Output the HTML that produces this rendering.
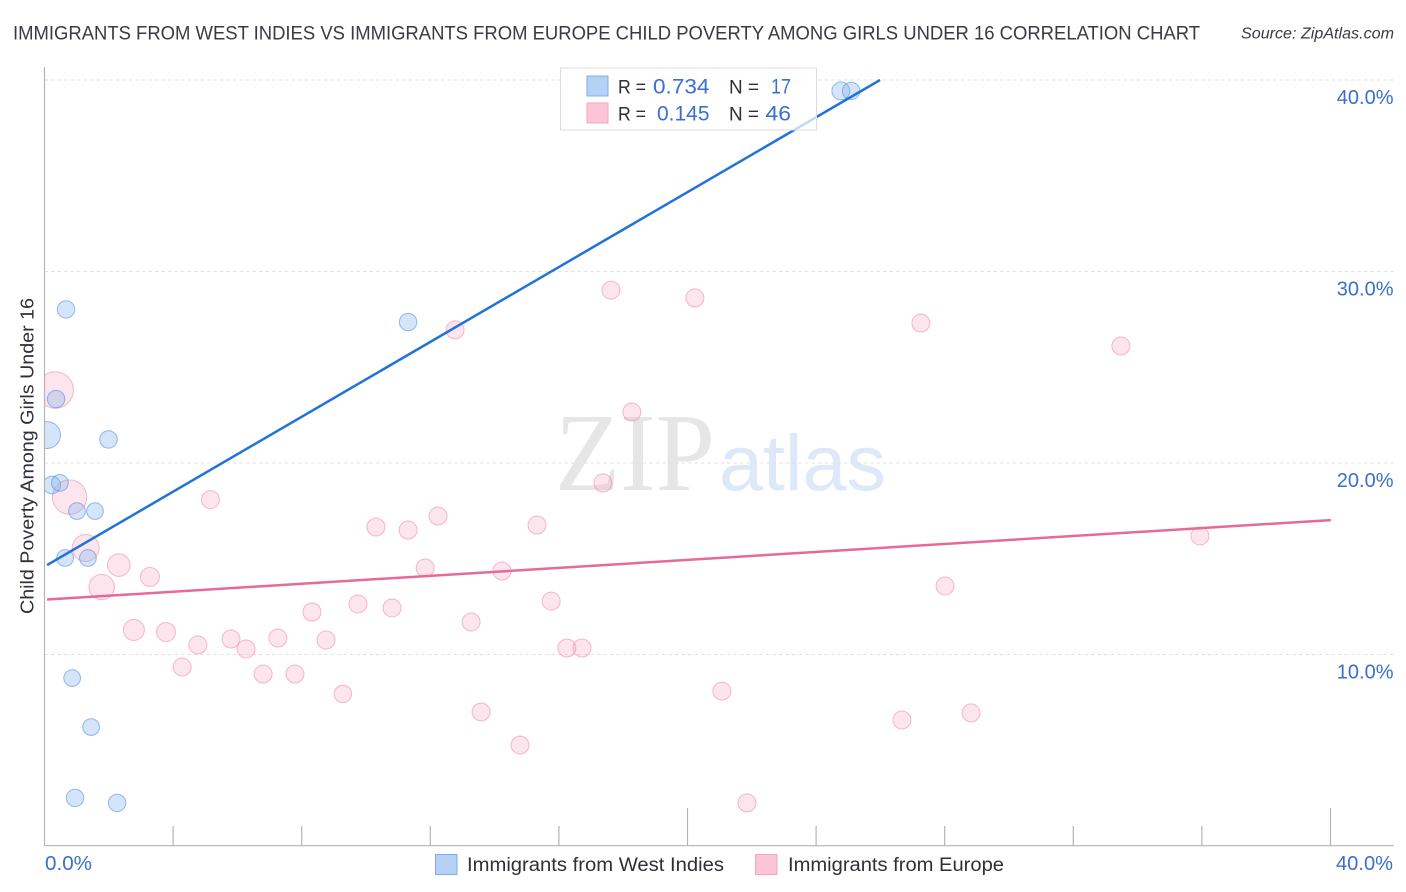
<!DOCTYPE html>
<html lang="en">
<head>
<meta charset="utf-8">
<title>Immigrants from West Indies vs Immigrants from Europe correlation chart</title>
<style>
html,body{margin:0;padding:0;background:#fff;width:1406px;height:892px;overflow:hidden}
svg{display:block;font-family:"Liberation Sans",sans-serif}
</style>
</head>
<body>
<svg id="chart" width="1406" height="892" viewBox="0 0 1406 892" xmlns="http://www.w3.org/2000/svg">
  <defs>
    <clipPath id="plotClip"><rect x="45" y="60" width="1349" height="786"/></clipPath>
  </defs>
  <rect x="0" y="0" width="1406" height="892" fill="#ffffff"/>
  <text x="13" y="39.5" font-size="19.5" fill="#3a3a42" textLength="1187" lengthAdjust="spacingAndGlyphs">IMMIGRANTS FROM WEST INDIES VS IMMIGRANTS FROM EUROPE CHILD POVERTY AMONG GIRLS UNDER 16 CORRELATION CHART</text>
  <text x="1241" y="38.5" font-size="15.5" font-style="italic" fill="#3a3a42" textLength="153" lengthAdjust="spacingAndGlyphs">Source: ZipAtlas.com</text>

  <g>
    <text x="555" y="490" font-size="111" fill="#e6e6e6" style="font-family:'Liberation Serif',serif" textLength="160" lengthAdjust="spacingAndGlyphs">ZIP</text>
    <text x="719" y="490" font-size="79" fill="#dde8f8" textLength="167" lengthAdjust="spacingAndGlyphs">atlas</text>
  </g>

  <g id="grid"></g>
  <g id="yLabels"></g>
  <g id="pinkPoints" clip-path="url(#plotClip)"></g>
  <g id="bluePoints" clip-path="url(#plotClip)"></g>
  <g id="trends"></g>
  <g id="axes"></g>

  <text transform="translate(33.5,456) rotate(-90)" text-anchor="middle" font-size="18.5" fill="#2f2f37" textLength="316" lengthAdjust="spacingAndGlyphs">Child Poverty Among Girls Under 16</text>
  <text x="45" y="870" font-size="20" fill="#3a6fd0" textLength="47" lengthAdjust="spacingAndGlyphs">0.0%</text>
  <text x="1336" y="870" font-size="20" fill="#3a6fd0" textLength="57" lengthAdjust="spacingAndGlyphs">40.0%</text>

  <g>
    <rect x="560.5" y="68" width="256" height="62" fill="#ffffff" fill-opacity="0.72" stroke="#dcdcdc" stroke-width="1"/>
    <rect x="587" y="76" width="21" height="20" fill="#b5d2f6" stroke="#7fabe6" stroke-width="1"/>
    <rect x="587" y="103" width="21" height="20" fill="#fcc5d7" stroke="#f3a5c0" stroke-width="1"/>
    <text x="618" y="93.5" font-size="19" fill="#2f2f37" textLength="28" lengthAdjust="spacingAndGlyphs">R =</text>
    <text x="653" y="93.5" font-size="21" fill="#3a6fd0" textLength="56.5" lengthAdjust="spacingAndGlyphs">0.734</text>
    <text x="729" y="93.5" font-size="19" fill="#2f2f37" textLength="30" lengthAdjust="spacingAndGlyphs">N =</text>
    <text x="771" y="93.5" font-size="21" fill="#3a6fd0" textLength="20" lengthAdjust="spacingAndGlyphs">17</text>
    <text x="618" y="120.5" font-size="19" fill="#2f2f37" textLength="28" lengthAdjust="spacingAndGlyphs">R =</text>
    <text x="657" y="120.5" font-size="21" fill="#3a6fd0" textLength="52.5" lengthAdjust="spacingAndGlyphs">0.145</text>
    <text x="729" y="120.5" font-size="19" fill="#2f2f37" textLength="30" lengthAdjust="spacingAndGlyphs">N =</text>
    <text x="765.5" y="120.5" font-size="21" fill="#3a6fd0" textLength="25.5" lengthAdjust="spacingAndGlyphs">46</text>
  </g>

  <g>
    <rect x="435.5" y="854.5" width="21.5" height="20" fill="#b5d2f6" stroke="#7fabe6" stroke-width="1"/>
    <text x="467" y="871" font-size="19" fill="#2f2f37" textLength="257" lengthAdjust="spacingAndGlyphs">Immigrants from West Indies</text>
    <rect x="755.5" y="854.5" width="21.5" height="20" fill="#fcc5d7" stroke="#f3a5c0" stroke-width="1"/>
    <text x="788" y="871" font-size="19" fill="#2f2f37" textLength="216" lengthAdjust="spacingAndGlyphs">Immigrants from Europe</text>
  </g>
</svg>
<script>
const yTicks = [10, 20, 30, 40];
const yTickLabels = ['10.0%', '20.0%', '30.0%', '40.0%'];
const xTicks = [0, 4, 8, 12, 16, 20, 24, 28, 32, 36, 40];
const xMajorTicks = [20, 40];

const blueX = [24.77, 25.09, 0.67, 11.31, 0.36, 0.08, 1.99, 0.23, 0.48, 1.01, 1.57, 0.64, 1.35, 0.86, 1.45, 0.95, 2.26];
const blueY = [39.43, 39.43, 28.02, 27.36, 23.34, 21.46, 21.23, 18.85, 18.96, 17.49, 17.49, 15.04, 15.04, 8.77, 6.21, 2.51, 2.25];
const blueWeight = [81, 76, 76, 76, 76, 180, 76, 76, 70, 70, 70, 70, 70, 70, 70, 76, 76];

const pinkX = [0.33, 0.78, 1.28, 2.31, 1.78, 3.28, 2.78, 3.78, 4.77, 4.28, 5.80, 6.27, 6.80, 7.26, 7.79, 8.32, 8.76, 9.28, 9.75, 10.81, 10.31, 11.31, 11.84, 12.24, 13.27, 13.58, 14.23, 14.79, 15.32, 15.76, 16.25, 16.72, 17.37, 17.62, 18.27, 20.23, 21.07, 21.85, 26.67, 27.26, 28.01, 28.82, 33.48, 35.94, 12.77, 5.16];
const pinkY = [23.81, 18.22, 15.56, 14.67, 13.52, 14.05, 11.28, 11.17, 10.50, 9.35, 10.81, 10.29, 8.98, 10.86, 8.98, 12.22, 10.76, 7.94, 12.64, 12.43, 16.66, 16.50, 14.52, 17.23, 11.70, 7.00, 14.36, 5.27, 16.76, 12.79, 10.34, 10.34, 18.96, 29.03, 22.66, 28.62, 8.09, 2.25, 6.58, 27.31, 13.58, 6.95, 26.11, 16.19, 26.95, 18.09];
const pinkWeight = [335, 296, 182, 128, 161, 90, 110, 90, 81, 81, 81, 81, 81, 81, 81, 81, 81, 76, 81, 81, 81, 81, 81, 81, 81, 81, 81, 81, 81, 81, 81, 81, 81, 81, 81, 81, 81, 81, 81, 81, 81, 81, 81, 81, 81, 81];

const blueTrendX = [0.08, 25.99];
const blueTrendY = [14.67, 40];
const pinkTrendX = [0.08, 40.01];
const pinkTrendY = [12.87, 17.02];

const SVG_NS = 'http://www.w3.org/2000/svg';
function sx(v) { return 44.5 + v * 32.15; }
function sy(v) { return 846 - v * 19.15; }
function sr(w) { return Math.sqrt(w); }
function make(tag, parent, attrs) {
  const el = document.createElementNS(SVG_NS, tag);
  Object.keys(attrs).forEach(function (k) { el.setAttribute(k, attrs[k]); });
  parent.appendChild(el);
  return el;
}

const grid = document.getElementById('grid');
yTicks.forEach(function (t) {
  const line = make('line', grid, { x1: 44.5, x2: 1394, y1: sy(t), y2: sy(t), stroke: '#e2e2e2', 'stroke-width': 1, 'stroke-dasharray': '3.5 3' });
  
  
});

const yLabels = document.getElementById('yLabels');
yTicks.forEach(function (t, i) {
  const label = make('text', yLabels, { x: 1393.5, y: sy(t) + 24, 'text-anchor': 'end', 'font-size': 20, fill: '#3a6fd0' });
  label.textContent = yTickLabels[i];
  
  
});

function drawPoints(groupId, xs, ys, ws, fill, stroke, name) {
  const g = document.getElementById(groupId);
  xs.forEach(function (x, i) {
    const c = make('circle', g, { cx: sx(x), cy: sy(ys[i]), r: sr(ws[i]), fill: fill, stroke: stroke, 'stroke-width': 1 });
    
    
  });
}
drawPoints('pinkPoints', pinkX, pinkY, pinkWeight, 'rgba(246,160,190,0.28)', 'rgba(236,130,168,0.55)', 'europe-point');
drawPoints('bluePoints', blueX, blueY, blueWeight, 'rgba(125,175,238,0.33)', 'rgba(70,135,222,0.55)', 'west-indies-point');

const trends = document.getElementById('trends');
const blueLine = make('line', trends, { x1: sx(blueTrendX[0]), y1: sy(blueTrendY[0]), x2: sx(blueTrendX[1]), y2: sy(blueTrendY[1]), stroke: '#2272d9', 'stroke-width': 2.5 });


const pinkLine = make('line', trends, { x1: sx(pinkTrendX[0]), y1: sy(pinkTrendY[0]), x2: sx(pinkTrendX[1]), y2: sy(pinkTrendY[1]), stroke: '#e8689a', 'stroke-width': 2.5 });



const axes = document.getElementById('axes');
const yAxis = make('line', axes, { x1: 44.5, x2: 44.5, y1: 67, y2: 846, stroke: '#b4b4b4', 'stroke-width': 1.2 });


const xAxis = make('line', axes, { x1: 44, x2: 1394, y1: 845.7, y2: 845.7, stroke: '#b4b4b4', 'stroke-width': 1.2 });


xTicks.forEach(function (t) {
  if (t === 0) { return; }
  const top = xMajorTicks.indexOf(t) >= 0 ? 808 : 826;
  const tick = make('line', axes, { x1: sx(t), x2: sx(t), y1: top, y2: 846, stroke: '#b4b4b4', 'stroke-width': 1.2 });
  
  
});
</script>
</body>
</html>
